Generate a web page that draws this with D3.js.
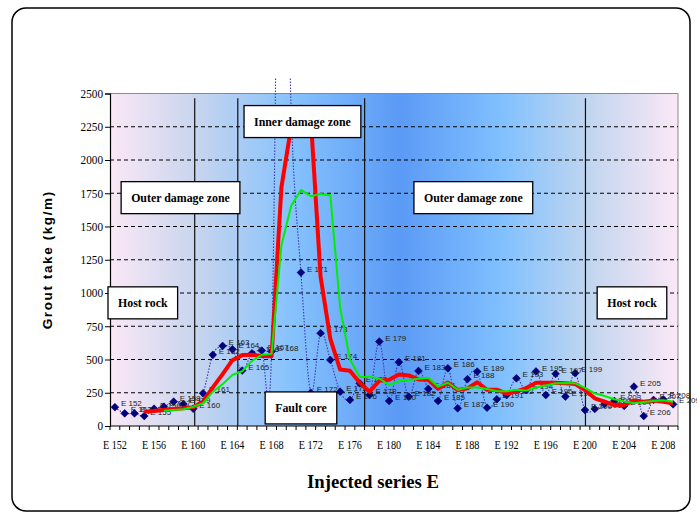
<!DOCTYPE html>
<html>
<head>
<meta charset="utf-8">
<script src="https://cdn.jsdelivr.net/npm/d3@7"></script>
<style>
  html, body { margin: 0; padding: 0; background: #ffffff; }
  svg { display: block; }
</style>
</head>
<body>
<svg id="chart" width="697" height="517"></svg>
<script>
// ---------------- DATA ----------------
const categories = d3.range(152, 210).map(n => "E " + n);

// Grout take per injection (kg/m), E152 .. E209 (E169 and E170 go above the axis maximum)
const groutTake = [
  141, 95, 95, 75, 130, 145, 183, 165, 130, 246,
  535, 602, 577, 417, 547, 567, 560, 5494, 2370, 1154,
  250, 698, 497, 258, 196, 321, 233, 635, 188, 480,
  221, 414, 279, 188, 434, 133, 352, 409, 138, 201,
  233, 359, 270, 410, 233, 392, 221, 397, 120, 128,
  166, 188, 151, 296, 75, 196, 201, 163
];

// Red trend line, E155 .. E209
const redStart = "E 155";
const redTrend = [
  108, 113, 120, 128, 133, 141, 183, 290, 390, 495,
  533, 536, 527, 525, 1792, 2250, 2400, 2320, 1124, 655,
  424, 415, 325, 258, 340, 348, 387, 380, 350, 347,
  280, 327, 270, 283, 329, 272, 273, 243, 260, 285,
  325, 326, 326, 321, 316, 271, 208, 183, 158, 158,
  191, 183, 191, 183, 171
];

// Green trend line, E157 .. E209
const greenStart = "E 157";
const greenTrend = [
  115, 120, 126, 145, 171, 258, 315, 384, 412, 490,
  535, 543, 1355, 1655, 1775, 1728, 1745, 1735, 890, 500,
  371, 368, 357, 309, 336, 346, 355, 362, 296, 325,
  273, 290, 290, 279, 262, 262, 272, 266, 290, 305,
  321, 324, 321, 286, 246, 225, 201, 185, 172, 180,
  188, 194, 183
];

const yTicks = [0, 250, 500, 750, 1000, 1250, 1500, 1750, 2000, 2250, 2500];
const xTickLabels = ["E 152","E 156","E 160","E 164","E 168","E 172","E 176","E 180","E 184","E 188","E 192","E 196","E 200","E 204","E 208"];

// zone boundaries, as category positions (index from E 152)
const zoneBounds = [8.15, 12.55, 25.5, 48.05];

// zone labels: text, category position, value at box centre
const zoneLabels = ["Outer damage zone", "Inner damage zone", "Outer damage zone", "Host rock", "Host rock", "Fault core"];
const zoneLabelPos = [6.7, 19.15, 36.6, 2.85, 52.8, 19.0];
const zoneLabelVal = [1717, 2289, 1717, 926, 926, 136];

const yTitle = "Grout take (kg/m)";
const xTitle = "Injected series E";

// ---------------- DRAW ----------------
const svg = d3.select("#chart");
const L = 110, R = 678, T = 93.5, B = 426;
const SERIF = "'Liberation Serif', 'Times New Roman', serif";
const SANS = "'Liberation Sans', Arial, sans-serif";

const x = d3.scaleBand().domain(categories).range([L, R]).paddingInner(0).paddingOuter(0);
const bw = x.bandwidth();
const xc = c => x(c) + bw / 2;
const xi = d3.scaleLinear().domain([-0.5, categories.length - 0.5]).range([L, R]);
const y = d3.scaleLinear().domain([0, 2500]).range([B, T]);

// frame
svg.append("rect").attr("x", 12).attr("y", 8).attr("width", 678).attr("height", 503)
  .attr("rx", 14).attr("ry", 14).attr("fill", "#ffffff").attr("stroke", "#000").attr("stroke-width", 1.5);

// plot background gradient
const defs = svg.append("defs");
const grad = defs.append("linearGradient").attr("id", "bg").attr("x1", "0%").attr("x2", "100%").attr("y1", "0%").attr("y2", "0%");
[[0, "#fbe8f6"], [0.15, "#c8d5ee"], [0.32, "#86c2fd"], [0.51, "#5b9af5"], [0.69, "#80c0ff"], [0.84, "#c0d5ef"], [1, "#fbe8f6"]]
  .forEach(([o, c]) => grad.append("stop").attr("offset", o).attr("stop-color", c));
svg.append("rect").attr("x", L).attr("y", T).attr("width", R - L).attr("height", B - T).attr("fill", "url(#bg)");

// plot border (top/right gray)
svg.append("path").attr("d", `M${L},${T}H${R}V${B}`).attr("fill", "none").attr("stroke", "#8a8a8a").attr("stroke-width", 1);

// gridlines
svg.append("g").selectAll("line").data(yTicks.filter(v => v > 0 && v < 2500)).join("line")
  .attr("x1", L).attr("x2", R).attr("y1", d => y(d)).attr("y2", d => y(d))
  .attr("stroke", "#000").attr("stroke-width", 1).attr("stroke-dasharray", "4,3");

// zone boundary lines
svg.append("g").selectAll("line").data(zoneBounds).join("line")
  .attr("x1", d => xi(d)).attr("x2", d => xi(d)).attr("y1", y(2465)).attr("y2", B)
  .attr("stroke", "#111").attr("stroke-width", 1.2);

// axes
const yAxis = d3.axisLeft(y).tickValues(yTicks).tickSize(5).tickFormat(d3.format("d"));
const gy = svg.append("g").attr("transform", `translate(${L},0)`).call(yAxis);
gy.attr("font-family", null).attr("font-size", null);
gy.select(".domain").attr("stroke", "#000").attr("stroke-width", 1.2);
gy.selectAll(".tick line").attr("stroke", "#000");
gy.selectAll(".tick text").style("font-family", SERIF)
  .style("font-size", "12px").attr("fill", "#000").attr("x", -7)
  .attr("textLength", d => String(d).length * 5.6).attr("lengthAdjust", "spacingAndGlyphs");

const gx = svg.append("g").attr("transform", `translate(0,${B})`);
gx.append("line").attr("x1", L).attr("x2", R).attr("y1", 0).attr("y2", 0).attr("stroke", "#000").attr("stroke-width", 1.2);
gx.selectAll("line.tk").data(d3.range(categories.length + 1)).join("line").attr("class", "tk")
  .attr("x1", d => xi(d - 0.5)).attr("x2", d => xi(d - 0.5)).attr("y1", 0).attr("y2", 4)
  .attr("stroke", "#000").attr("stroke-width", 1);
gx.selectAll("text").data(xTickLabels).join("text")
  .attr("x", d => xc(d)).attr("y", 23).attr("text-anchor", "middle")
  .style("font-family", SERIF).style("font-size", "12px")
  .attr("textLength", 24).attr("lengthAdjust", "spacingAndGlyphs").attr("fill", "#000").text(d => d);

// clip for the series
defs.append("clipPath").attr("id", "clip").append("rect").attr("x", L).attr("y", 78).attr("width", R - L).attr("height", B - 78);

const pts = categories.map((c, i) => ({ c, v: groutTake[i] }));

// blue smoothed dotted line
const blueLine = d3.line().x(d => xc(d.c)).y(d => y(d.v)).curve(d3.curveCardinal.tension(0));
svg.append("path").attr("clip-path", "url(#clip)").attr("d", blueLine(pts))
  .attr("fill", "none").attr("stroke", "#3a3ab4").attr("stroke-width", 1.1).attr("stroke-dasharray", "1.5,1.5");

// markers
const visible = pts.filter(d => d.v <= 2500);
svg.append("g").selectAll("path").data(visible).join("path")
  .attr("d", d3.symbol().type(d3.symbolSquare).size(30))
  .attr("transform", d => `translate(${xc(d.c)},${y(d.v)}) rotate(45)`)
  .attr("fill", "#000080").attr("stroke", "#000060").attr("stroke-width", 0.6);

// data labels
svg.append("g").selectAll("text").data(visible).join("text")
  .attr("x", d => xc(d.c) + 6).attr("y", d => y(d.v) - 3).attr("dominant-baseline", "middle")
  .style("font-family", SANS).style("font-size", "8px")
  .attr("fill", "#222").text(d => d.c);

// trend lines
const trendLine = d3.line().x(d => xc(d.c)).y(d => y(d.v));
const i0r = categories.indexOf(redStart);
const redPts = redTrend.map((v, i) => ({ c: categories[i0r + i], v }));
const i0g = categories.indexOf(greenStart);
const greenPts = greenTrend.map((v, i) => ({ c: categories[i0g + i], v }));
svg.append("path").attr("clip-path", "url(#clip)").attr("d", trendLine(redPts))
  .attr("fill", "none").attr("stroke", "#ff0000").attr("stroke-width", 4).attr("stroke-linejoin", "round");
svg.append("path").attr("clip-path", "url(#clip)").attr("d", trendLine(greenPts))
  .attr("fill", "none").attr("stroke", "#00ee00").attr("stroke-width", 2).attr("stroke-linejoin", "round");

// zone label boxes
const zl = svg.append("g");
zoneLabels.forEach((t, i) => {
  const cx = xi(zoneLabelPos[i]), cy = y(zoneLabelVal[i]);
  const g = zl.append("g");
  const rect = g.append("rect").attr("fill", "#fff").attr("stroke", "#000").attr("stroke-width", 1.3);
  const txt = g.append("text").attr("x", cx).attr("y", cy).attr("text-anchor", "middle").attr("dominant-baseline", "central")
    .style("font-family", SERIF).style("font-weight", "bold").style("font-size", "13.5px")
    .attr("fill", "#000").text(t);
  const tw = txt.node().getComputedTextLength() * 0.88;
  txt.attr("textLength", tw).attr("lengthAdjust", "spacingAndGlyphs");
  const bwid = tw + 20, bh = 32;
  rect.attr("x", cx - bwid / 2).attr("y", cy - bh / 2).attr("width", bwid).attr("height", bh);
});

// axis titles
svg.append("text").attr("transform", `translate(47,${(T + B) / 2}) rotate(-90)`)
  .attr("text-anchor", "middle").attr("dominant-baseline", "central")
  .style("font-family", SANS).style("font-weight", "bold").style("font-size", "13.5px")
  .attr("letter-spacing", 1.6).attr("fill", "#000").text(yTitle);
svg.append("text").attr("x", 373).attr("y", 488).attr("text-anchor", "middle")
  .style("font-family", SERIF).style("font-weight", "bold").style("font-size", "19px")
  .attr("textLength", 132).attr("lengthAdjust", "spacingAndGlyphs").attr("fill", "#000").text(xTitle);
</script>
</body>
</html>
